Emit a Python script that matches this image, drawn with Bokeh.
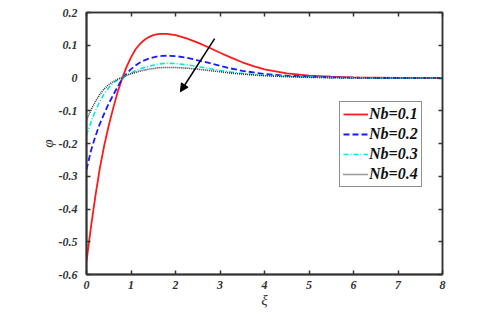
from bokeh.plotting import figure
from bokeh.models import (LinearAxis, FixedTicker, Arrow, NormalHead, Legend, LegendItem)
from bokeh.embed import file_html
from bokeh.resources import INLINE

xi = [0, 0.1, 0.2, 0.3, 0.4, 0.5, 0.6, 0.7, 0.8, 0.9, 1.0, 1.1, 1.2, 1.3, 1.4, 1.5, 1.6,
      1.7, 1.8, 2.0, 2.25, 2.5, 2.75, 3.0, 3.25, 3.5, 3.75, 4.0, 4.5, 5.0, 5.5, 6.0,
      6.5, 7.0, 7.5, 8.0]

phi_nb01 = [-0.56, -0.455, -0.36, -0.275, -0.205, -0.145, -0.092, -0.043, -0.002, 0.034,
            0.063, 0.087, 0.104, 0.116, 0.125, 0.131, 0.134, 0.135, 0.135, 0.131,
            0.121, 0.108, 0.093, 0.077, 0.062, 0.048, 0.036, 0.026, 0.014, 0.007,
            0.004, 0.002, 0.001, 0.0, 0.0, 0.0]
phi_nb02 = [-0.28, -0.222, -0.178, -0.14, -0.108, -0.078, -0.052, -0.027, -0.003, 0.013,
            0.027, 0.038, 0.047, 0.054, 0.059, 0.063, 0.066, 0.0675, 0.068, 0.067,
            0.062, 0.054, 0.046, 0.037, 0.029, 0.022, 0.017, 0.012, 0.007, 0.004,
            0.002, 0.001, 0.0, 0.0, 0.0, 0.0]
phi_nb03 = [-0.175, -0.135, -0.1, -0.071, -0.048, -0.03, -0.015, -0.006, 0.001, 0.008,
            0.015, 0.022, 0.027, 0.032, 0.036, 0.039, 0.042, 0.044, 0.045, 0.044,
            0.04, 0.035, 0.029, 0.023, 0.018, 0.014, 0.011, 0.008, 0.005, 0.003,
            0.001, 0.001, 0.0, 0.0, 0.0, 0.0]
phi_nb04 = [-0.128, -0.098, -0.072, -0.05, -0.033, -0.02, -0.011, -0.004, 0.002, 0.008,
            0.013, 0.017, 0.021, 0.024, 0.027, 0.029, 0.031, 0.032, 0.032, 0.032,
            0.03, 0.027, 0.023, 0.019, 0.015, 0.012, 0.009, 0.007, 0.004, 0.002,
            0.001, 0.0, 0.0, 0.0, 0.0, 0.0]

labels = ["Nb=0.1", "Nb=0.2", "Nb=0.3", "Nb=0.4"]
x_ticks = [0, 1, 2, 3, 4, 5, 6, 7, 8]
y_ticks = [-0.6, -0.5, -0.4, -0.3, -0.2, -0.1, 0, 0.1, 0.2]
y_tick_labels = ["-0.6", "-0.5", "-0.4", "-0.3", "-0.2", "-0.1", "0", "0.1", "0.2"]
arrow_start = (2.88, 0.12)
arrow_end = (2.11, -0.042)

p = figure(width=488, height=312, x_range=(0, 8), y_range=(-0.6, 0.2),
           output_backend="svg", toolbar_location=None,
           min_border_left=86, min_border_right=46, min_border_top=12, min_border_bottom=38)
p.xgrid.visible = False
p.ygrid.visible = False
p.outline_line_color = "#333333"
p.outline_line_width = 1.5

FONT = "Liberation Serif"
for ax in (p.xaxis[0], p.yaxis[0]):
    ax.major_label_text_font = FONT
    ax.major_label_text_font_style = "bold italic"
    ax.major_label_text_font_size = "12px"
    ax.major_label_text_color = "#333333"
    ax.axis_line_color = "#333333"
    ax.axis_line_width = 2
    ax.major_tick_line_color = "#333333"
    ax.major_tick_line_width = 1.5
    ax.major_tick_in = 4
    ax.major_tick_out = 0
    ax.minor_tick_line_color = None
    ax.axis_label_text_font = FONT
    ax.axis_label_text_font_style = "italic"
    ax.axis_label_text_font_size = "15px"
    ax.axis_label_text_color = "#333333"

p.xaxis[0].ticker = FixedTicker(ticks=x_ticks)
p.yaxis[0].ticker = FixedTicker(ticks=y_ticks)
p.yaxis[0].major_label_overrides = {t: s for t, s in zip(y_ticks, y_tick_labels)}
p.xaxis[0].major_label_standoff = 6
p.yaxis[0].major_label_standoff = 9
p.xaxis[0].axis_label = "ξ"
p.yaxis[0].axis_label = "φ"
p.xaxis[0].axis_label_standoff = 0
p.yaxis[0].axis_label_standoff = 0

for loc, ticks in (("right", y_ticks), ("above", x_ticks)):
    ax = LinearAxis(ticker=FixedTicker(ticks=ticks))
    ax.major_label_overrides = {t: "" for t in ticks}
    ax.major_label_standoff = 0
    ax.axis_line_color = "#333333"
    ax.axis_line_width = 1.5
    ax.major_tick_line_color = "#333333"
    ax.major_tick_line_width = 1.5
    ax.major_tick_in = 4
    ax.major_tick_out = 0
    ax.minor_tick_line_color = None
    p.add_layout(ax, loc)

r1 = p.line(xi, phi_nb01, line_color="#ff1a1a", line_width=1.8)
r2 = p.line(xi, phi_nb02, line_color="#1a1aff", line_width=1.8, line_dash="6 3")
r3 = p.line(xi, phi_nb03, line_color="#00e5e5", line_width=1.6, line_dash="5 2 1 2")
r4 = p.line(xi, phi_nb04, line_color="#333333", line_width=1.6, line_dash="1 1")

p.add_layout(Arrow(end=NormalHead(size=8, fill_color="black", line_color="black"),
                   x_start=arrow_start[0], y_start=arrow_start[1],
                   x_end=arrow_end[0], y_end=arrow_end[1],
                   line_color="black", line_width=1.5))

legend = Legend(items=[LegendItem(label=l, renderers=[r]) for l, r in zip(labels, [r1, r2, r3, r4])],
                location=(253, 87))
legend.label_text_font = FONT
legend.label_text_font_style = "bold italic"
legend.label_text_font_size = "16px"
legend.label_text_color = "#111111"
legend.glyph_width = 25
legend.glyph_height = 16
legend.label_height = 16
legend.label_standoff = 1
legend.spacing = 2
legend.padding = 3
legend.margin = 0
legend.border_line_color = "#222222"
legend.border_line_width = 1.5
p.add_layout(legend)

open("out.html", "w").write(file_html(p, INLINE))
